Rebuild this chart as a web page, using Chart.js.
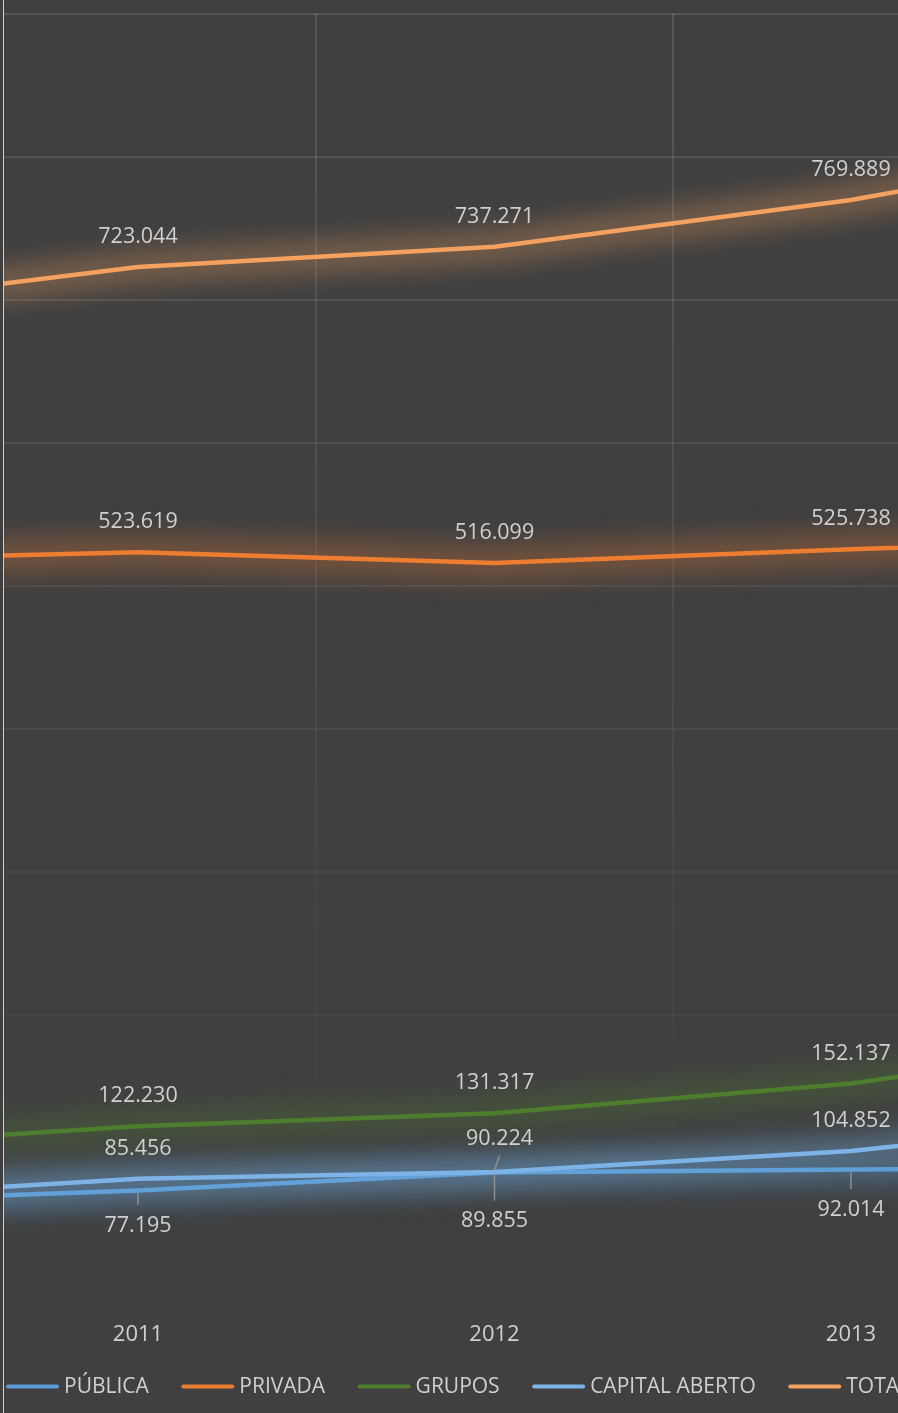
<!DOCTYPE html>
<html>
<head>
<meta charset="utf-8">
<title>PÚBLICA / PRIVADA / GRUPOS / CAPITAL ABERTO / TOTAL</title>
<script src="https://cdn.jsdelivr.net/npm/chart.js@4.4.0/dist/chart.umd.min.js"></script>
<style>
  html, body { margin: 0; padding: 0; background: #404040; overflow: hidden; }
  #wrap { position: relative; width: 898px; height: 1413px; }
</style>
</head>
<body>
<div id="wrap"><canvas id="chart" width="898" height="1413"></canvas></div>
<script>
// Values per year. 2010 and 2014 lie outside the visible window,
// they are only read from where the lines leave the picture.
const years = [2010, 2011, 2012, 2013, 2014];
const publica = [68500, 77195, 89855, 92014, 92500];
const privada = [517500, 523619, 516099, 525738, 533000];
const grupos = [106500, 122230, 131317, 152137, 188000];
const capitalAberto = [70700, 85456, 90224, 104852, 131400];
const total = [692500, 723044, 737271, 769889, 815000];

const seriesNames = ['PÚBLICA', 'PRIVADA', 'GRUPOS', 'CAPITAL ABERTO', 'TOTAL'];
const seriesValues = [publica, privada, grupos, capitalAberto, total];
const seriesColors = ['#5B9BD5', '#ED7D31', '#4E7D2E', '#7DB3E6', '#F4A15F'];

// year labels shown on the axis, and the y axis range
const shownYears = [2011, 2012, 2013];
const yMax = 900000;
const yStep = 100000;

// visible window: 2011 sits at 138px, one year is 356.5px wide
const pxPerYear = 356.5;
const areaLeft = 4;
const areaRight = 898;
const xMin = shownYears[0] - (138 - areaLeft) / pxPerYear;
const xMax = xMin + (areaRight - areaLeft) / pxPerYear;

const textColor = '#d0d0d0';
const fontFamily = '"Open Sans", "Noto Sans", sans-serif';

// label offsets that Excel had moved by hand (dx, dy from the point)
const labelShift = {
  'PÚBLICA': [[0, 33], [0, 33], [0, 46.5], [0, 38], [0, 33]],
  'CAPITAL ABERTO': [null, null, [5, -35], null, null]
};
const labelAbove = -32;

function fmt(v) {
  return String(Math.round(v)).replace(/\B(?=(\d{3})+(?!\d))/g, '.');
}

function hexToRgba(hex, a) {
  const n = parseInt(hex.slice(1), 16);
  return `rgba(${(n >> 16) & 255},${(n >> 8) & 255},${n & 255},${a})`;
}

// soft glow under each line, drawn just before the line itself
const glowPlugin = {
  id: 'glow',
  beforeDatasetDraw(chart, args) {
    const ds = chart.data.datasets[args.index];
    const pts = args.meta.data;
    const a = chart.chartArea;
    const ctx = chart.ctx;
    ctx.save();
    ctx.beginPath();
    ctx.rect(a.left, a.top - 40, a.right - a.left, a.bottom - a.top + 80);
    ctx.clip();
    ctx.filter = 'blur(13px)';
    ctx.strokeStyle = hexToRgba(ds.borderColor, 0.32);
    ctx.lineWidth = 32;
    ctx.lineJoin = 'round';
    ctx.beginPath();
    pts.forEach((p, i) => i ? ctx.lineTo(p.x, p.y) : ctx.moveTo(p.x, p.y));
    ctx.stroke();
    ctx.restore();
  }
};

// value labels and leader lines
const labelPlugin = {
  id: 'valueLabels',
  afterDatasetsDraw(chart) {
    const ctx = chart.ctx;
    const area = chart.chartArea;
    ctx.save();
    ctx.font = `21.5px ${fontFamily}`;
    ctx.fillStyle = textColor;
    ctx.textAlign = 'center';
    ctx.textBaseline = 'middle';
    chart.data.datasets.forEach((ds, i) => {
      const meta = chart.getDatasetMeta(i);
      const shifts = labelShift[ds.label];
      meta.data.forEach((pt, j) => {
        if (pt.x < area.left || pt.x > area.right) return;
        const s = shifts && shifts[j];
        const dx = s ? s[0] : 0;
        const dy = s ? s[1] : labelAbove;
        const lx = pt.x + dx;
        const ly = pt.y + dy;
        if (s) {
          const dir = dy > 0 ? 1 : -1;
          ctx.save();
          ctx.strokeStyle = '#8f8f8f';
          ctx.lineWidth = 1.5;
          ctx.beginPath();
          ctx.moveTo(pt.x, pt.y + dir * 2);
          ctx.lineTo(lx, ly - dir * 18.5);
          ctx.stroke();
          ctx.restore();
        }
        ctx.fillText(fmt(ds.data[j].y), lx, ly + 2);
      });
    });
    ctx.restore();
  }
};

// legend along the bottom plus the chart's left border
const legendPlugin = {
  id: 'bottomLegend',
  afterDraw(chart) {
    const ctx = chart.ctx;
    ctx.save();
    ctx.fillStyle = '#cfcfcf';
    ctx.fillRect(3, 0, 1, chart.height);
    ctx.font = `21px ${fontFamily}`;
    ctx.textBaseline = 'middle';
    ctx.textAlign = 'left';
    let x = 6;
    const y = 1386.5;
    seriesNames.forEach((name, i) => {
      ctx.strokeStyle = seriesColors[i];
      ctx.lineWidth = 4;
      ctx.lineCap = 'round';
      ctx.beginPath();
      ctx.moveTo(x + 2, y);
      ctx.lineTo(x + 51, y);
      ctx.stroke();
      ctx.fillStyle = textColor;
      ctx.fillText(name, x + 58, y + 1);
      x += 58 + ctx.measureText(name).width + 32.5;
    });
    ctx.restore();
  }
};

let vGrad = null;
function verticalGridColor(chart) {
  const a = chart.chartArea;
  if (!a) return 'rgba(255,255,255,0.12)';
  if (!vGrad) {
    vGrad = chart.ctx.createLinearGradient(0, a.top, 0, a.bottom);
    vGrad.addColorStop(0, 'rgba(255,255,255,0.12)');
    vGrad.addColorStop(0.95, 'rgba(255,255,255,0)');
  }
  return vGrad;
}

const datasets = seriesNames.map((name, i) => ({
  label: name,
  data: years.map((yr, j) => ({ x: yr, y: seriesValues[i][j] })),
  borderColor: seriesColors[i],
  borderWidth: 4.5,
  pointRadius: 0,
  tension: 0,
  fill: false,
  order: seriesNames.length - i
}));

const xTicks = [];
shownYears.forEach((yr, i) => {
  xTicks.push(yr);
  if (i < shownYears.length - 1) xTicks.push(yr + 0.5);
});

new Chart(document.getElementById('chart'), {
  type: 'line',
  data: { datasets },
  options: {
    responsive: false,
    animation: false,
    devicePixelRatio: 1,
    layout: { padding: { left: areaLeft, top: 14, right: 0, bottom: 0 } },
    plugins: {
      legend: { display: false },
      tooltip: { enabled: false }
    },
    scales: {
      x: {
        type: 'linear',
        min: xMin,
        max: xMax,
        afterBuildTicks: (scale) => { scale.ticks = xTicks.map(v => ({ value: v })); },
        afterFit: (scale) => { scale.height = 112; },
        ticks: {
          autoSkip: false,
          maxRotation: 0,
          padding: 21,
          color: textColor,
          font: { family: fontFamily, size: 22 },
          callback: (v) => Number.isInteger(v) ? String(v) : ''
        },
        grid: {
          drawTicks: false,
          lineWidth: 2,
          color: (c) => (c.tick && Number.isInteger(c.tick.value)) ? 'rgba(0,0,0,0)' : verticalGridColor(c.chart)
        },
        border: { display: false }
      },
      y: {
        min: 0,
        max: yMax,
        afterFit: (scale) => { scale.width = 0; },
        ticks: { display: false, stepSize: yStep },
        grid: {
          drawTicks: false,
          lineWidth: 2,
          color: (c) => `rgba(255,255,255,${(0.12 * (c.tick ? c.tick.value : 0) / yMax).toFixed(3)})`
        },
        border: { display: false }
      }
    }
  },
  plugins: [glowPlugin, labelPlugin, legendPlugin]
});
</script>
</body>
</html>
